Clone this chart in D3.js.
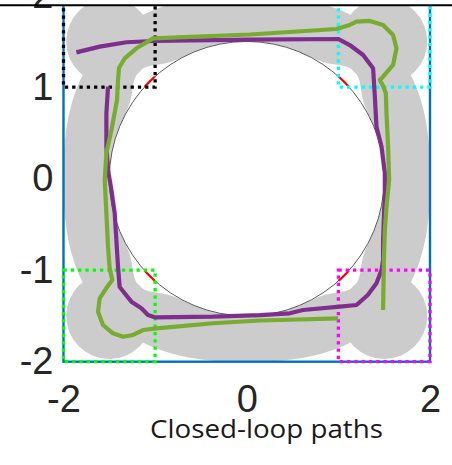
<!DOCTYPE html>
<html><head><meta charset="utf-8">
<script src="https://cdn.jsdelivr.net/npm/d3@7"></script>
<style>html,body{margin:0;padding:0;background:#fff;} svg{display:block;}</style>
</head><body>
<svg id="chart" width="452" height="465"></svg>
<script>
// ---- data ----
const xTicks = [-2, 0, 2];
const yTicks = [-2, -1, 0, 1, 2];
const xLabel = "Closed-loop paths";

const obstacleCenter = [0, 0];
const obstacleRadius = 1.5;
const cornerCenters = [[-1.5, 1.5], [1.5, 1.5], [-1.5, -1.5], [1.5, -1.5]];
const cornerRadius = 0.47;
const bandOuter = 2.0;       // outer half-width of the gray band
const bandExponent = 2.5;    // superellipse exponent of the band outline
const notchDepth = 0.16;     // inner bulge of band near diagonals
const notchWidth = 0.15;     // radians

const boxX0 = [-2, 1, -2, 1];
const boxX1 = [-1, 2, -1, 2];
const boxY0 = [1, 1, -2, -2];
const boxY1 = [2, 2, -1, -1];
const boxColors = ["#000000", "#00ffff", "#00ff00", "#ff00ff"];

const frameX = [-2, 2];
const frameY = [-2, 2];

const purpleX = [-1.859,-1.605,-1.313,-1.023,0.033,0.997,1.124,1.270,1.379,1.397,1.416,1.471,1.507,1.507,1.488,1.488,1.471,1.416,1.321,1.198,1.015,0.615,0.469,0.142,-0.368,-1.004,-1.078,-1.150,-1.259,-1.387,-1.405,-1.423,-1.441,-1.477,-1.514,-1.532,-1.532,-1.514];
const purpleY = [1.381,1.443,1.491,1.505,1.521,1.527,1.461,1.352,1.207,0.915,0.568,0.350,0.059,-0.160,-0.670,-0.889,-0.998,-1.143,-1.271,-1.380,-1.399,-1.435,-1.471,-1.490,-1.508,-1.515,-1.490,-1.416,-1.344,-1.184,-0.962,-0.670,-0.378,-0.124,0.095,0.350,0.715,1.006];

const greenX = [0.997,0.360,0.142,-0.368,-0.986,-1.132,-1.241,-1.350,-1.460,-1.569,-1.623,-1.605,-1.532,-1.468,-1.496,-1.514,-1.532,-1.550,-1.532,-1.477,-1.416,-1.405,-1.394,-1.332,-1.204,-1.023,0.033,0.979,1.124,1.198,1.343,1.488,1.597,1.634,1.597,1.488,1.452,1.488,1.518,1.525,1.543,1.554,1.525,1.507,1.496,1.488];
const greenY = [-1.526,-1.544,-1.550,-1.580,-1.635,-1.654,-1.708,-1.727,-1.690,-1.599,-1.454,-1.307,-1.195,-1.107,-0.976,-0.743,-0.378,-0.014,0.278,0.532,0.860,1.079,1.210,1.316,1.425,1.534,1.576,1.636,1.680,1.716,1.724,1.680,1.571,1.425,1.243,1.115,1.079,1.013,0.933,0.715,0.350,-0.014,-0.306,-0.561,-0.925,-1.435];

// ---- drawing ----
const svg = d3.select("#chart");
const x = d3.scaleLinear().domain([-2, 2]).range([63.5, 430]);
const y = d3.scaleLinear().domain([-2, 2]).range([361.7, -4.3]);

svg.append("defs").append("clipPath").attr("id", "clip")
  .append("rect").attr("x", 0).attr("y", 6).attr("width", 452).attr("height", 459);
const plot = svg.append("g").attr("clip-path", "url(#clip)");

// gray band
function bandPath() {
  const N = 720;
  const outer = [], inner = [];
  for (let i = 0; i < N; i++) {
    const t = 2 * Math.PI * i / N;
    const c = Math.cos(t), s = Math.sin(t);
    const ro = bandOuter / Math.pow(Math.pow(Math.abs(c), bandExponent) + Math.pow(Math.abs(s), bandExponent), 1 / bandExponent);
    outer.push([x(ro * c), y(ro * s)]);
    let bump = 0;
    for (let k = 0; k < 4; k++) {
      let d = t - (Math.PI / 4 + k * Math.PI / 2);
      d = Math.atan2(Math.sin(d), Math.cos(d));
      bump += Math.exp(-(d / notchWidth) * (d / notchWidth));
    }
    const ri = obstacleRadius + notchDepth * bump;
    inner.push([x(ri * c), y(ri * s)]);
  }
  const toStr = pts => "M" + pts.map(p => p[0].toFixed(2) + "," + p[1].toFixed(2)).join("L") + "Z";
  return toStr(outer) + toStr(inner);
}
plot.append("path").attr("d", bandPath()).attr("fill", "#cccccc").attr("fill-rule", "evenodd");

plot.selectAll("ellipse.corner").data(cornerCenters).enter().append("ellipse")
  .attr("class", "corner")
  .attr("cx", d => x(d[0])).attr("cy", d => y(d[1]))
  .attr("rx", x(cornerRadius) - x(0)).attr("ry", y(0) - y(cornerRadius))
  .attr("fill", "#cccccc");

// obstacle
plot.append("ellipse")
  .attr("cx", x(obstacleCenter[0])).attr("cy", y(obstacleCenter[1]))
  .attr("rx", x(obstacleRadius) - x(0)).attr("ry", y(0) - y(obstacleRadius))
  .attr("fill", "#ffffff").attr("stroke", "#5a5a5a").attr("stroke-width", 1);

// red arcs: parts of obstacle boundary inside the corner boxes
const arcLine = d3.line().x(d => x(d[0])).y(d => y(d[1]));
for (let b = 0; b < 4; b++) {
  const pts = [];
  for (let i = 0; i <= 720; i++) {
    const t = 2 * Math.PI * i / 720;
    const px = obstacleCenter[0] + obstacleRadius * Math.cos(t);
    const py = obstacleCenter[1] + obstacleRadius * Math.sin(t);
    if (px >= boxX0[b] && px <= boxX1[b] && py >= boxY0[b] && py <= boxY1[b]) pts.push([px, py]);
  }
  if (pts.length > 1) {
    plot.append("path").attr("d", arcLine(pts)).attr("fill", "none")
      .attr("stroke", "#ff0000").attr("stroke-width", 2.2);
  }
}

// blue frame
plot.append("rect")
  .attr("x", x(frameX[0])).attr("y", y(frameY[1]))
  .attr("width", x(frameX[1]) - x(frameX[0])).attr("height", y(frameY[0]) - y(frameY[1]))
  .attr("fill", "none").attr("stroke", "#0072BD").attr("stroke-width", 2.4);

// dotted boxes
for (let b = 0; b < 4; b++) {
  plot.append("rect")
    .attr("x", x(boxX0[b])).attr("y", y(boxY1[b]))
    .attr("width", x(boxX1[b]) - x(boxX0[b])).attr("height", y(boxY0[b]) - y(boxY1[b]))
    .attr("fill", "none").attr("stroke", boxColors[b]).attr("stroke-width", 3.3)
    .attr("stroke-dasharray", "3.3,4");
}

// paths
const line = d3.line().x(d => x(d[0])).y(d => y(d[1]));
plot.append("path").attr("d", line(purpleX.map((v, i) => [v, purpleY[i]])))
  .attr("fill", "none").attr("stroke", "#7E2F8E").attr("stroke-width", 4.2)
  .attr("stroke-linejoin", "round");
plot.append("path").attr("d", line(greenX.map((v, i) => [v, greenY[i]])))
  .attr("fill", "none").attr("stroke", "#77AC30").attr("stroke-width", 4.2)
  .attr("stroke-linejoin", "round");

// axes (labels only)
const fmt = d => String(d);
const yAxis = svg.append("g").attr("transform", `translate(${x(-2)},0)`)
  .call(d3.axisLeft(y).tickValues(yTicks).tickSize(0).tickPadding(10).tickFormat(fmt));
const xAxis = svg.append("g").attr("transform", `translate(0,${y(-2)})`)
  .call(d3.axisBottom(x).tickValues(xTicks).tickSize(0).tickPadding(23).tickFormat(fmt));
[yAxis, xAxis].forEach(g => {
  g.select(".domain").remove();
  g.selectAll("text").attr("font-family", "'Liberation Sans', Arial, sans-serif")
    .attr("font-size", 38).attr("fill", "#262626");
});

// top border line
svg.append("line").attr("x1", 0).attr("x2", 452).attr("y1", 5.2).attr("y2", 5.2)
  .attr("stroke", "#000").attr("stroke-width", 2);

// x label
svg.append("text").attr("x", 266.5).attr("y", 438).attr("text-anchor", "middle")
  .attr("font-family", "'Open Sans', 'Noto Sans', sans-serif").attr("font-size", 26)
  .attr("fill", "#1a1a1a").attr("textLength", 233).attr("lengthAdjust", "spacingAndGlyphs")
  .text(xLabel);
</script>
</body></html>
